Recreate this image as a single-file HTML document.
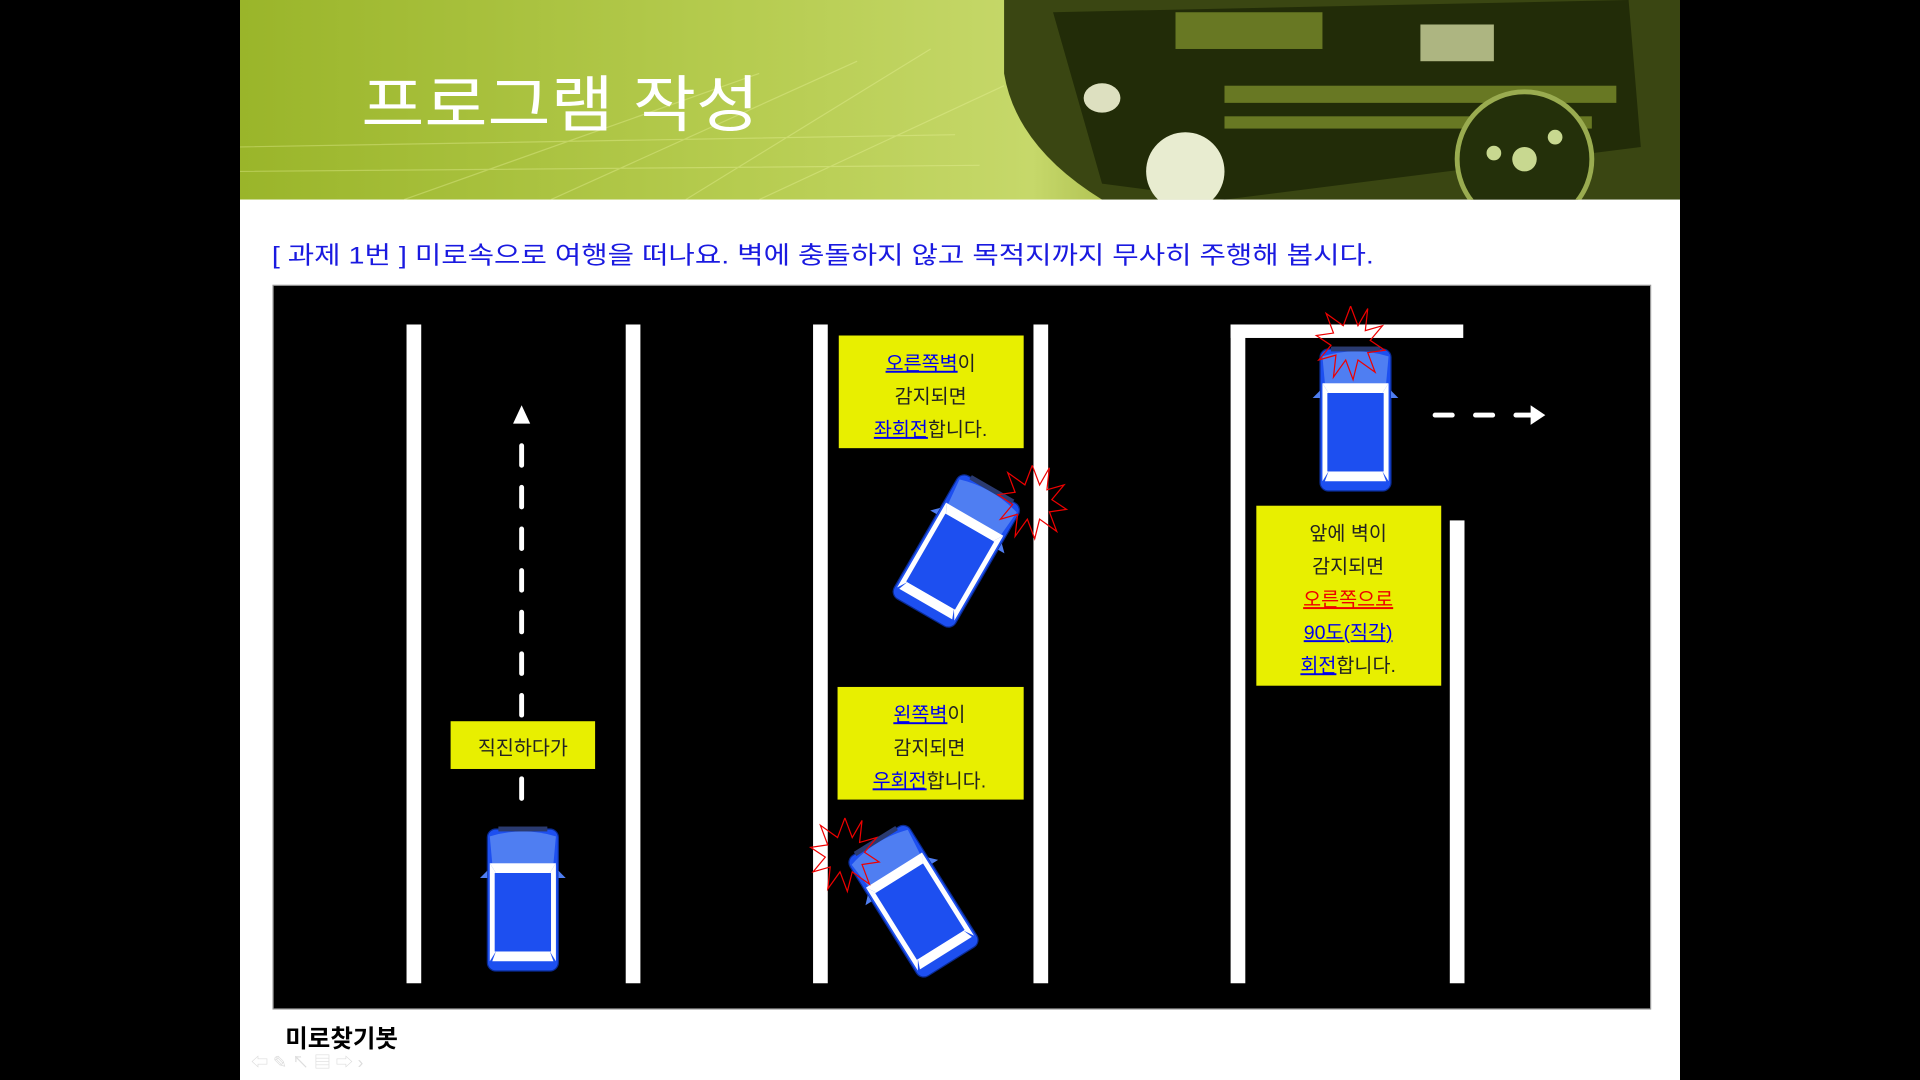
<!DOCTYPE html>
<html><head><meta charset="utf-8"><style>
html,body{margin:0;padding:0;background:#000;width:1920px;height:1080px;overflow:hidden}
svg{display:block}
text{font-family:"Liberation Sans","Noto Sans CJK KR",sans-serif}
</style></head><body>
<svg width="1920" height="1080" viewBox="0 0 1568 882" xmlns="http://www.w3.org/2000/svg">
<defs>
<linearGradient id="hg" x1="0" y1="0" x2="1" y2="0">
<stop offset="0" stop-color="#9ab52a"/><stop offset="0.35" stop-color="#b6cc50"/><stop offset="0.55" stop-color="#c6d86a"/><stop offset="0.7" stop-color="#8a9a2a"/><stop offset="1" stop-color="#5a7a1a"/>
</linearGradient>
<clipPath id="hc"><rect x="196" y="0" width="1176" height="163"/></clipPath>
<g id="car">
<rect x="-29" y="-58" width="58" height="116" rx="7" fill="#1d4ff0" stroke="#0a2a90" stroke-width="1"/>
<path d="M-27,-52 Q0,-60 27,-52 L25,-30 L-25,-30 Z" fill="#4f7ef2"/>
<path d="M-27,-30 L27,-30 L22,-22 L-22,-22 Z" fill="#fff"/>
<path d="M-27,-30 L-22,-22 L-22,42 L-27,50 Z" fill="#fff"/>
<path d="M27,-30 L22,-22 L22,42 L27,50 Z" fill="#fff"/>
<path d="M-22,42 L22,42 L25,50 L-25,50 Z" fill="#fff"/>
<rect x="-23" y="-22" width="46" height="64" fill="#1d4ff0"/>
<rect x="-20" y="-60" width="40" height="4" fill="#2a3a70"/>
<path d="M-29,-24 L-35,-18 L-29,-18Z M29,-24 L35,-18 L29,-18Z" fill="#4f7ef2"/>
</g>
<g id="star">
<polyline fill="none" stroke="#e00" stroke-width="1" points="0,-30 6,-14 14,-28 12,-10 26,-14 16,-2 28,6 14,8 20,24 6,14 2,30 -4,14 -14,28 -12,10 -26,14 -16,2 -28,-6 -14,-8 -20,-24 -6,-14 0,-30"/>
</g>
</defs>
<rect x="196" y="0" width="1176" height="882" fill="#fff"/>
<g clip-path="url(#hc)">
<rect x="196" y="0" width="1176" height="163" fill="url(#hg)"/>
<g opacity="0.35" stroke="#eef5a0" stroke-width="1" fill="none">
<path d="M330,163 L620,60 M450,163 L700,50 M560,163 L760,40 M196,120 L780,110 M196,140 L800,135 M620,163 L820,70"/>
</g>
<path d="M820,0 L1372,0 L1372,163 L900,163 Q830,120 820,60 Z" fill="#3a4612"/>
<path d="M860,10 L1330,0 L1340,120 L1000,163 L900,150 Z" fill="#222c08"/>
<g fill="#7a8c2a" opacity="0.8">
<rect x="1000" y="70" width="320" height="14"/><rect x="1000" y="95" width="300" height="10"/>
<rect x="960" y="10" width="120" height="30"/><rect x="1160" y="20" width="60" height="30" fill="#d0d8a0"/>
</g>
<circle cx="1245" cy="130" r="55" fill="#24300a" stroke="#9aac50" stroke-width="4"/>
<circle cx="1245" cy="130" r="10" fill="#c8d890"/><circle cx="1220" cy="125" r="6" fill="#c8d890"/><circle cx="1270" cy="112" r="6" fill="#c8d890"/>
<ellipse cx="968" cy="140" rx="32" ry="32" fill="#e8ecd0"/>
<ellipse cx="900" cy="80" rx="15" ry="12" fill="#dde0c0"/>
</g>
<text x="295" y="103" font-size="50" fill="#fff" textLength="325" lengthAdjust="spacingAndGlyphs">프로그램 작성</text>
<text x="222" y="215" font-size="20" fill="#1a1ae0" textLength="900" lengthAdjust="spacingAndGlyphs">[ 과제 1번 ]  미로속으로 여행을 떠나요. 벽에 충돌하지 않고 목적지까지 무사히 주행해 봅시다.</text>
<rect x="223" y="233" width="1125" height="591" fill="#000" stroke="#999" stroke-width="1"/>
<g fill="#fff">
<rect x="332" y="265" width="12" height="538"/><rect x="511" y="265" width="12" height="538"/>
<rect x="664" y="265" width="12" height="538"/><rect x="844" y="265" width="12" height="538"/>
<rect x="1005" y="265" width="12" height="538"/><rect x="1005" y="265" width="190" height="11"/>
<rect x="1184" y="425" width="12" height="378"/>
</g>
<line x1="426" y1="364" x2="426" y2="655" stroke="#fff" stroke-width="4" stroke-dasharray="16,18" stroke-linecap="round"/>
<path d="M426,331 L433,346 L419,346 Z" fill="#fff"/>
<rect x="368" y="589" width="118" height="39" fill="#e8ef00"/>
<text x="427" y="616" font-size="16" text-anchor="middle" fill="#222">직진하다가</text>
<use href="#car" transform="translate(427,735)"/>
<use href="#car" transform="translate(781,450) rotate(30)"/>
<use href="#star" transform="translate(843,410)"/>
<use href="#car" transform="translate(746,736) rotate(-32)"/>
<use href="#star" transform="translate(690,698)"/>
<use href="#car" transform="translate(1107,343)"/>
<use href="#star" transform="translate(1103,280)"/>
<g stroke="#fff" stroke-width="4" stroke-linecap="round"><line x1="1172" y1="339" x2="1186" y2="339"/><line x1="1205" y1="339" x2="1219" y2="339"/><line x1="1238" y1="339" x2="1252" y2="339"/></g>
<path d="M1262,339 L1250,331 L1250,347 Z" fill="#fff"/>
<g font-size="16" text-anchor="middle" fill="#222">
<rect x="685" y="274" width="151" height="92" fill="#e8ef00"/>
<text x="760" y="302"><tspan fill="#00e" text-decoration="underline">오른쪽벽</tspan>이</text>
<text x="760" y="329">감지되면</text>
<text x="760" y="356"><tspan fill="#00e" text-decoration="underline">좌회전</tspan>합니다.</text>
<rect x="684" y="561" width="152" height="92" fill="#e8ef00"/>
<text x="759" y="589"><tspan fill="#00e" text-decoration="underline">왼쪽벽</tspan>이</text>
<text x="759" y="616">감지되면</text>
<text x="759" y="643"><tspan fill="#00e" text-decoration="underline">우회전</tspan>합니다.</text>
<rect x="1026" y="413" width="151" height="147" fill="#e8ef00"/>
<text x="1101" y="441">앞에 벽이</text>
<text x="1101" y="468">감지되면</text>
<text x="1101" y="495" fill="#e00" text-decoration="underline">오른쪽으로</text>
<text x="1101" y="522" fill="#00e" text-decoration="underline">90도(직각)</text>
<text x="1101" y="549"><tspan fill="#00e" text-decoration="underline">회전</tspan>합니다.</text>
</g>
<text x="233" y="855" font-size="20" fill="#000" font-weight="bold">미로찾기봇</text>
<g fill="#ddd" font-size="14"><text x="205" y="872">⇦ ✎ ↖ ▤ ⇨ ›</text></g>
</svg>
</body></html>
